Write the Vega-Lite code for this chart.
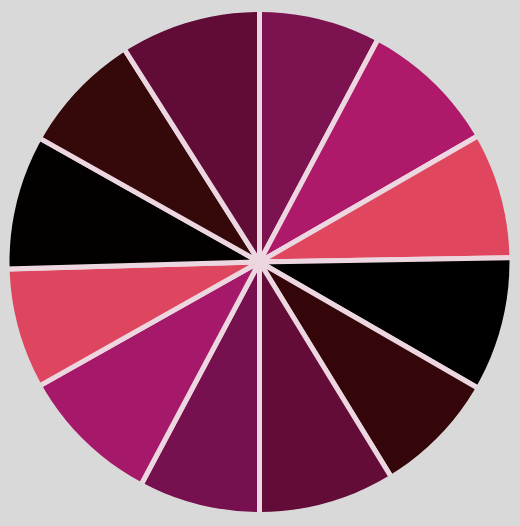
{
  "$schema": "https://vega.github.io/schema/vega-lite/v6.json",
  "width": 520,
  "height": 526,
  "autosize": {"type": "fit", "contains": "padding"},
  "padding": {"left": 0, "top": 0, "right": 1, "bottom": 2},
  "background": "#d9d9d9",
  "view": {"stroke": null},
  "resolve": {"scale": {"theta": "independent"}},
  "layer": [
    {
      "data": {"values": [
        {"i": 1, "k": "A", "v": 28},
        {"i": 2, "k": "B", "v": 32},
        {"i": 3, "k": "C", "v": 29},
        {"i": 4, "k": "D", "v": 31},
        {"i": 5, "k": "E", "v": 28.5},
        {"i": 6, "k": "F", "v": 31.5},
        {"i": 7, "k": "G", "v": 28},
        {"i": 8, "k": "H", "v": 32.6},
        {"i": 9, "k": "I", "v": 27.8},
        {"i": 10, "k": "J", "v": 31},
        {"i": 11, "k": "K", "v": 28.2},
        {"i": 12, "k": "L", "v": 32.4}
      ]},
      "mark": {"type": "arc", "outerRadius": 254, "stroke": "#ecd6e0", "strokeWidth": 5},
      "encoding": {
        "theta": {"field": "v", "type": "quantitative", "stack": true},
        "order": {"field": "i", "type": "quantitative"},
        "color": {
          "field": "k", "type": "nominal", "legend": null,
          "scale": {
            "domain": ["A","B","C","D","E","F","G","H","I","J","K","L"],
            "range": ["#7d1251","#ae1a69","#e0475f","#000000","#340609","#620c37","#76104e","#a5186a","#de465f","#030000","#35080a","#600c36"]
          }
        }
      }
    },
    {
      "data": {"values": [{"r": 1}]},
      "mark": {"type": "arc", "innerRadius": 250, "outerRadius": 275, "fill": "#d9d9d9", "stroke": null},
      "encoding": {
        "theta": {"field": "r", "type": "quantitative", "stack": true}
      }
    }
  ]
}
